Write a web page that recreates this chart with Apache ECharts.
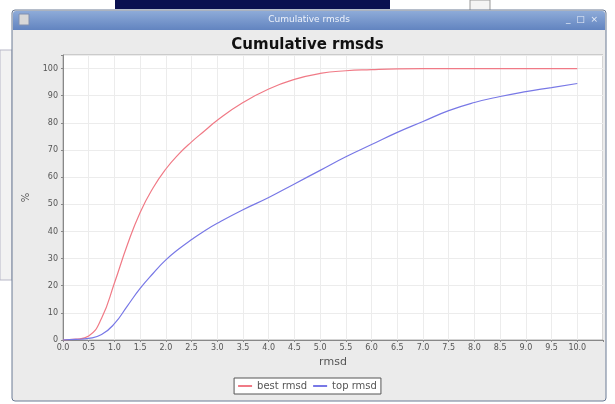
<!DOCTYPE html>
<html>
<head>
<meta charset="utf-8">
<script src="https://cdn.jsdelivr.net/npm/echarts@6/dist/echarts.min.js"></script>
<style>
  html, body { margin: 0; padding: 0; background: #ffffff; }
  #main { width: 615px; height: 404px; }
</style>
</head>
<body>
<div id="main"></div>
<script>
// rmsd values (x) and cumulative percentage for each curve
var rmsd = [0, 0.25, 0.5, 0.75, 1.0, 1.25, 1.5, 1.75, 2.0, 2.25, 2.5, 2.75, 3.0, 3.5, 4.0, 4.5, 5.0, 5.5, 6.0, 6.5, 7.0, 7.5, 8.0, 8.5, 9.0, 9.5, 10.0];
var bestRmsd = [0, 0.3, 1.5, 8, 21, 35, 47, 56, 63, 68.5, 73, 77, 81, 87.5, 92.5, 96, 98.2, 99.2, 99.6, 99.9, 100, 100, 100, 100, 100, 100, 100];
var topRmsd = [0, 0.2, 0.6, 2, 6, 12.5, 19, 24.5, 29.5, 33.5, 37, 40.2, 43, 48, 52.5, 57.5, 62.5, 67.5, 72, 76.5, 80.5, 84.5, 87.5, 89.7, 91.5, 93, 94.5];
var seriesNames = ['best rmsd', 'top rmsd'];

function pairs(ys) {
  return rmsd.map(function (x, i) { return [x, ys[i]]; });
}

var chart = echarts.init(document.getElementById('main'));
chart.setOption({
  backgroundColor: '#ffffff',
  animation: false,
  graphic: [
    // background clutter around the window
    { type: 'rect', z: -5, shape: { x: 115, y: 0, width: 275, height: 9 }, style: { fill: '#0a1050' } },
    { type: 'rect', z: -5, shape: { x: 470, y: 0, width: 20, height: 12 }, style: { fill: '#f4f4f4', stroke: '#999' } },
    { type: 'rect', z: -5, shape: { x: 0, y: 50, width: 12, height: 230 }, style: { fill: '#f2f2f2', stroke: '#b8b8c8' } },
    // window frame
    { type: 'rect', z: -4, shape: { x: 12, y: 10, width: 594, height: 391, r: 3 }, style: { fill: '#ebebeb', stroke: '#6a7a94' } },
    {
      type: 'rect', z: -3, shape: { x: 13, y: 11, width: 592, height: 19, r: [3, 3, 0, 0] },
      style: {
        fill: new echarts.graphic.LinearGradient(0, 0, 0, 1, [
          { offset: 0, color: '#8eabd8' }, { offset: 1, color: '#6284c0' }
        ])
      }
    },
    { type: 'text', z: -2, style: { x: 309, y: 20, text: 'Cumulative rmsds', fill: '#eef2fa', font: '9px "DejaVu Sans"', align: 'center', verticalAlign: 'middle' } },
    { type: 'rect', z: -2, shape: { x: 19, y: 14, width: 10, height: 11 }, style: { fill: '#d8d8d8', stroke: '#8090b0' } },
    { type: 'text', z: -2, style: { x: 598, y: 20, text: '_  □  ×', fill: '#e8eef8', font: '9px "DejaVu Sans"', align: 'right', verticalAlign: 'middle' } }
  ],
  title: {
    text: 'Cumulative rmsds',
    left: 'center',
    top: 33,
    textStyle: { fontFamily: 'DejaVu Sans', fontSize: 15, fontWeight: 'bold', color: '#111' }
  },
  legend: {
    data: seriesNames,
    bottom: 10,
    left: 'center',
    backgroundColor: '#ffffff',
    borderColor: '#555',
    borderWidth: 1,
    padding: [3, 4],
    itemGap: 6,
    itemWidth: 14,
    itemHeight: 2,
    icon: 'rect',
    textStyle: { fontFamily: 'DejaVu Sans', fontSize: 10, color: '#555' }
  },
  grid: {
    left: 63,
    right: 12,
    top: 55,
    bottom: 64,
    show: true,
    backgroundColor: '#ffffff',
    borderColor: '#aaa',
    borderWidth: 1
  },
  xAxis: {
    type: 'value',
    min: 0,
    max: 10.5,
    interval: 0.5,
    name: 'rmsd',
    nameLocation: 'middle',
    nameGap: 17,
    nameTextStyle: { fontFamily: 'DejaVu Sans', fontSize: 11, color: '#555' },
    axisLine: { lineStyle: { color: '#888' } },
    axisTick: { show: true, length: 2, lineStyle: { color: '#888' } },
    axisLabel: {
      fontFamily: 'DejaVu Sans', fontSize: 8, color: '#555', margin: 4,
      formatter: function (v) { return v > 10 ? '' : v.toFixed(1); }
    },
    splitLine: { show: true, lineStyle: { color: '#ececec', width: 1 } }
  },
  yAxis: {
    type: 'value',
    min: 0,
    max: 105,
    interval: 10,
    name: '%',
    nameLocation: 'middle',
    nameGap: 28,
    nameRotate: 90,
    nameTextStyle: { fontFamily: 'DejaVu Sans', fontSize: 10, color: '#555' },
    axisLine: { show: true, lineStyle: { color: '#888' } },
    axisTick: { show: true, length: 2, lineStyle: { color: '#888' } },
    axisLabel: {
      fontFamily: 'DejaVu Sans', fontSize: 8, color: '#555', margin: 5,
      formatter: function (v) { return v % 10 === 0 ? String(v) : ''; }
    },
    splitLine: { show: true, lineStyle: { color: '#ececec', width: 1 } }
  },
  series: [
    {
      name: seriesNames[0],
      type: 'line',
      smooth: 0.5,
      showSymbol: false,
      data: pairs(bestRmsd),
      itemStyle: { color: '#f07a86' },
      lineStyle: { color: '#f07a86', width: 1.2 }
    },
    {
      name: seriesNames[1],
      type: 'line',
      smooth: 0.5,
      showSymbol: false,
      data: pairs(topRmsd),
      itemStyle: { color: '#7878e6' },
      lineStyle: { color: '#7878e6', width: 1.2 }
    }
  ]
});
</script>
</body>
</html>
